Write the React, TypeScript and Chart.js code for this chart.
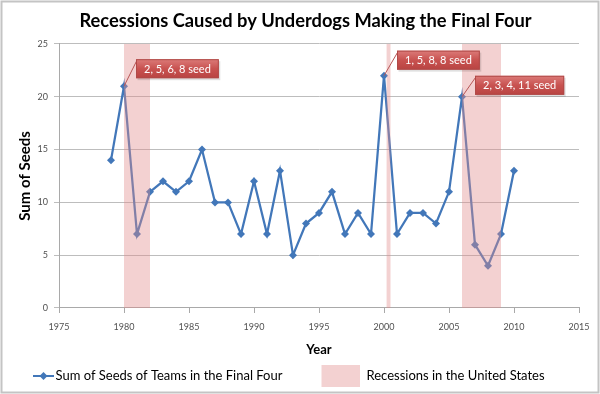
import React, { useEffect, useRef } from 'react';
import { Chart, registerables } from 'chart.js';

Chart.register(...registerables);

const years = [1979, 1980, 1981, 1982, 1983, 1984, 1985, 1986, 1987, 1988, 1989, 1990, 1991, 1992, 1993, 1994, 1995, 1996, 1997, 1998, 1999, 2000, 2001, 2002, 2003, 2004, 2005, 2006, 2007, 2008, 2009, 2010];
const seeds = [14, 21, 7, 11, 12, 11, 12, 15, 10, 10, 7, 12, 7, 13, 5, 8, 9, 11, 7, 9, 7, 22, 7, 9, 9, 8, 11, 20, 6, 4, 7, 13];
const recessionStarts = [1980, 2000.2, 2006];
const recessionEnds = [1982, 2000.5, 2009];
const calloutYears = [1980, 2000, 2006];
const calloutLabels = ['2, 5, 6, 8 seed', '1, 5, 8, 8 seed', '2, 3, 4, 11 seed'];
const xMin = 1975;
const xMax = 2015;
const yMin = 0;
const yMax = 25;
const tickStep = 5;

const TITLE = 'Recessions Caused by Underdogs Making the Final Four';
const SERIES_LABEL = 'Sum of Seeds of Teams in the Final Four';
const BAND_LABEL = 'Recessions in the United States';
const X_TITLE = 'Year';
const Y_TITLE = 'Sum of Seeds';

const FONT = 'Lato, "Open Sans", sans-serif';
const LINE_COLOR = '#4277b9';
const BAND_COLOR = 'rgba(224,140,140,0.4)';
const GRID_COLOR = '#bdbdbd';
const AXIS_COLOR = '#a9a9a9';
const TICK_COLOR = '#505050';

// pixel offsets of callout boxes relative to their anchor point (style only)
const calloutOffsets = [
  { dx: 12, dy: -27 },
  { dx: 13, dy: -25 },
  { dx: 13, dy: -21 },
];

const bgPlugin = {
  id: 'bgBorder',
  beforeDraw(chart: any) {
    const { ctx, width, height } = chart;
    ctx.save();
    ctx.fillStyle = '#ffffff';
    ctx.fillRect(0, 0, width, height);
    ctx.strokeStyle = '#c4c4c4';
    ctx.lineWidth = 2;
    ctx.strokeRect(1.5, 1.5, width - 3, height - 3);
    ctx.restore();
  },
};

const bandsPlugin = {
  id: 'recessionBands',
  afterDatasetsDraw(chart: any) {
    const { ctx, chartArea } = chart;
    const xs = chart.scales.x;
    ctx.save();
    ctx.fillStyle = BAND_COLOR;
    recessionStarts.forEach((s, i) => {
      const x0 = xs.getPixelForValue(s);
      const x1 = xs.getPixelForValue(recessionEnds[i]);
      ctx.fillRect(x0, chartArea.top, x1 - x0, chartArea.bottom - chartArea.top);
    });
    ctx.restore();
  },
};

const calloutPlugin = {
  id: 'callouts',
  afterDraw(chart: any) {
    const { ctx } = chart;
    const xs = chart.scales.x;
    const ys = chart.scales.y;
    ctx.save();
    ctx.font = `11px ${FONT}`;
    calloutYears.forEach((yr, i) => {
      const val = seeds[years.indexOf(yr)];
      const px = xs.getPixelForValue(yr);
      const py = ys.getPixelForValue(val);
      const off = calloutOffsets[i];
      const tw = ctx.measureText(calloutLabels[i]).width;
      const bw = tw + 16;
      const bh = 19;
      const bx = px + off.dx;
      const by = py + off.dy;
      ctx.strokeStyle = '#b85555';
      ctx.lineWidth = 1;
      ctx.beginPath();
      ctx.moveTo(px, py);
      ctx.lineTo(bx + 1, by + 1);
      ctx.stroke();
      ctx.fillStyle = 'rgba(0,0,0,0.12)';
      ctx.fillRect(bx + 1.5, by + 2, bw, bh);
      const grad = ctx.createLinearGradient(0, by, 0, by + bh);
      grad.addColorStop(0, '#dc7b79');
      grad.addColorStop(0.5, '#c85250');
      grad.addColorStop(1, '#b94442');
      ctx.fillStyle = grad;
      ctx.fillRect(bx, by, bw, bh);
      ctx.strokeStyle = '#b04a48';
      ctx.strokeRect(bx + 0.5, by + 0.5, bw - 1, bh - 1);
      ctx.fillStyle = '#ffffff';
      ctx.textAlign = 'center';
      ctx.textBaseline = 'middle';
      ctx.fillText(calloutLabels[i], bx + bw / 2, by + bh / 2 + 0.5);
    });
    ctx.restore();
  },
};

// legend drawn below the axis title (Excel-style spacing)
const legendPlugin = {
  id: 'customLegend',
  afterDraw(chart: any) {
    const { ctx, height } = chart;
    const cy = height - 18;
    ctx.save();
    ctx.strokeStyle = LINE_COLOR;
    ctx.lineWidth = 2;
    ctx.beginPath();
    ctx.moveTo(33, cy);
    ctx.lineTo(54, cy);
    ctx.stroke();
    ctx.fillStyle = LINE_COLOR;
    ctx.beginPath();
    ctx.moveTo(43.5, cy - 4);
    ctx.lineTo(47.5, cy);
    ctx.lineTo(43.5, cy + 4);
    ctx.lineTo(39.5, cy);
    ctx.closePath();
    ctx.fill();
    ctx.font = `13px ${FONT}`;
    ctx.fillStyle = '#000';
    ctx.textAlign = 'left';
    ctx.textBaseline = 'middle';
    ctx.fillText(SERIES_LABEL, 55.5, cy);
    ctx.fillStyle = BAND_COLOR;
    ctx.fillRect(321.5, cy - 11, 38.5, 22);
    ctx.fillStyle = '#000';
    ctx.fillText(BAND_LABEL, 366.5, cy);
    ctx.restore();
  },
};

export default function App() {
  const canvasRef = useRef<HTMLCanvasElement | null>(null);

  useEffect(() => {
    document.body.style.margin = '0';
    const canvas = canvasRef.current!;
    const chart = new Chart(canvas, {
      type: 'line',
      data: {
        datasets: [
          {
            label: SERIES_LABEL,
            data: years.map((y, i) => ({ x: y, y: seeds[i] })),
            borderColor: LINE_COLOR,
            backgroundColor: LINE_COLOR,
            borderWidth: 2.25,
            pointStyle: 'rectRot',
            pointRadius: 4,
            pointBorderWidth: 0,
            pointBackgroundColor: LINE_COLOR,
            tension: 0,
            fill: false,
          },
        ],
      },
      options: {
        responsive: false,
        animation: false,
        layout: { padding: { left: 32, right: 21, top: 0, bottom: 36 } },
        plugins: {
          title: {
            display: true,
            text: TITLE,
            color: '#000',
            font: { family: FONT, size: 18.3, weight: 'bold' },
            padding: { top: 10, bottom: 12 },
          },
          legend: { display: false },
          tooltip: { enabled: false },
        },
        scales: {
          x: {
            type: 'linear',
            min: xMin,
            max: xMax,
            afterFit: (s: any) => {
              s.height = 50;
            },
            ticks: {
              stepSize: tickStep,
              color: TICK_COLOR,
              font: { family: FONT, size: 9 },
              padding: 9,
              maxRotation: 0,
              callback: (v: any) => String(v),
            },
            grid: { display: true, drawOnChartArea: false, drawTicks: true, tickLength: 5, color: AXIS_COLOR },
            border: { display: true, color: AXIS_COLOR },
            title: {
              display: true,
              text: X_TITLE,
              color: '#000',
              font: { family: FONT, size: 13, weight: 'bold' },
              padding: { top: 0, bottom: 0 },
            },
          },
          y: {
            min: yMin,
            max: yMax,
            afterFit: (s: any) => {
              s.width = 27;
            },
            ticks: {
              stepSize: tickStep,
              color: TICK_COLOR,
              font: { family: FONT, size: 9 },
              padding: 6,
            },
            grid: { color: GRID_COLOR, tickLength: 5 },
            border: { display: true, color: AXIS_COLOR },
            title: {
              display: true,
              text: Y_TITLE,
              color: '#000',
              font: { family: FONT, size: 15, weight: 'bold' },
              padding: { top: -16, bottom: 0 },
            },
          },
        },
      },
      plugins: [bgPlugin, bandsPlugin, calloutPlugin, legendPlugin],
    } as any);
    return () => chart.destroy();
  }, []);

  return (
    <div style={{ position: 'absolute', left: 0, top: 0, width: 600, height: 394 }}>
      <canvas ref={canvasRef} width={600} height={394} style={{ display: 'block' }} />
    </div>
  );
}
